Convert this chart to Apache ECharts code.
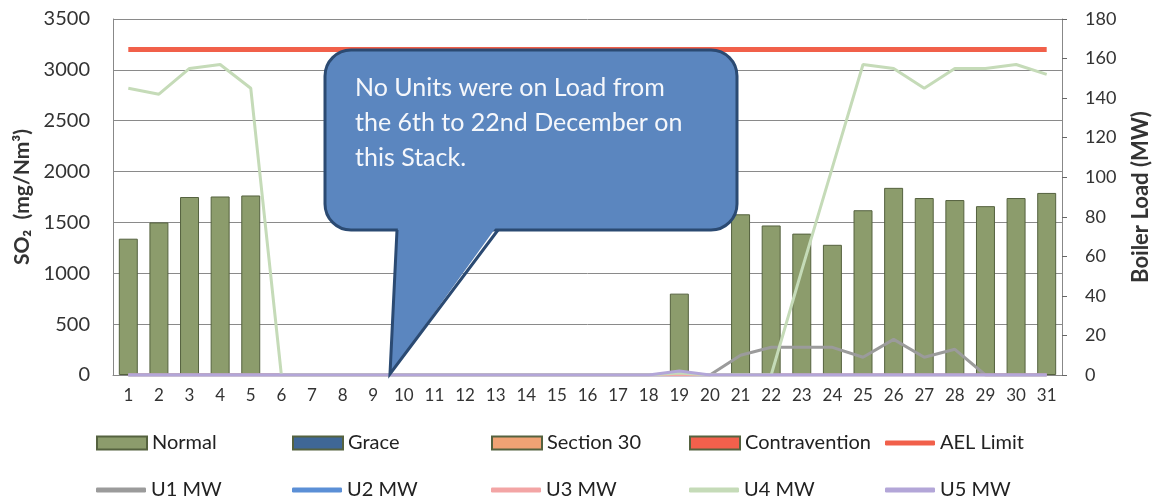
<!DOCTYPE html>
<html>
<head>
<meta charset="utf-8">
<script src="https://cdn.jsdelivr.net/npm/echarts@6/dist/echarts.min.js"></script>
<style>
    html, body { margin: 0; padding: 0; background: #fff; }
    #chart_main { width: 1160px; height: 503px; }
</style>
</head>
<body>
<div id="chart_main"></div>
<script>
// days of December
let days = ['1', '2', '3', '4', '5', '6', '7', '8', '9', '10', '11', '12', '13', '14', '15', '16',
    '17', '18', '19', '20', '21', '22', '23', '24', '25', '26', '27', '28', '29', '30', '31'];

// SO2 daily average (mg/Nm3), '-' = no load
let normal = [1340, 1500, 1750, 1755, 1765, '-', '-', '-', '-', '-', '-', '-', '-', '-', '-', '-',
    '-', '-', 800, '-', 1580, 1470, 1390, 1280, 1620, 1840, 1740, 1720, 1660, 1740, 1790];
let grace = [];
let section30 = [];
let contravention = [];
let aelLimit = [3200, 3200, 3200, 3200, 3200, 3200, 3200, 3200, 3200, 3200, 3200, 3200, 3200, 3200, 3200, 3200,
    3200, 3200, 3200, 3200, 3200, 3200, 3200, 3200, 3200, 3200, 3200, 3200, 3200, 3200, 3200];

// boiler load (MW)
let u1 = [0, 0, 0, 0, 0, 0, 0, 0, 0, 0, 0, 0, 0, 0, 0, 0,
    0, 0, 0, 0, 10, 14, 14, 14, 9, 18, 9, 13, 0, 0, 0];
let u2 = [0, 0, 0, 0, 0, 0, 0, 0, 0, 0, 0, 0, 0, 0, 0, 0,
    0, 0, 0, 0, 0, 0, 0, 0, 0, 0, 0, 0, 0, 0, 0];
let u3 = [0, 0, 0, 0, 0, 0, 0, 0, 0, 0, 0, 0, 0, 0, 0, 0,
    0, 0, 0, 0, 0, 0, 0, 0, 0, 0, 0, 0, 0, 0, 0];
let u4 = [145, 142, 155, 157, 145, 0, 0, 0, 0, 0, 0, 0, 0, 0, 0, 0,
    0, 0, 1, 0, 0, 0, 53, 105, 157, 155, 145, 155, 155, 157, 152];
let u5 = [0, 0, 0, 0, 0, 0, 0, 0, 0, 0, 0, 0, 0, 0, 0, 0,
    0, 0, 2, 0, 0, 0, 0, 0, 0, 0, 0, 0, 0, 0, 0];

let so2Ticks = {min: 0, max: 3500, interval: 500};
let loadTicks = {min: 0, max: 180, interval: 20};

let calloutText = 'No Units were on Load from\nthe 6th to 22nd December on\nthis Stack.';

let font = 'Lato';
let myChart = echarts.init(document.getElementById('chart_main'));

function barSeries(name, data, color) {
    return {
        name: name,
        type: 'bar',
        stack: 'so2',
        barCategoryGap: '38%',
        itemStyle: {color: color, borderColor: '#55623f', borderWidth: 1},
        data: data
    };
}

function lineSeries(name, data, color, yIndex, width) {
    return {
        name: name,
        type: 'line',
        yAxisIndex: yIndex,
        symbol: 'none',
        lineStyle: {color: color, width: width},
        itemStyle: {color: color},
        data: data
    };
}

/**
 * one legend per item so the columns line up like the original
 */
let legendCols = [96, 292, 491, 689, 885];
function legendItem(name, col, top, isLine) {
    return {
        left: legendCols[col],
        top: top,
        padding: 0,
        itemWidth: 50,
        itemHeight: isLine ? 5 : 13,
        icon: isLine ? 'roundRect' : 'rect',
        itemGap: 5,
        selectedMode: false,
        textStyle: {fontFamily: font, fontSize: 20, color: '#222'},
        data: [name]
    };
}

let option = {
    animation: false,
    textStyle: {fontFamily: font},
    grid: {left: 113, right: 96, top: 19, bottom: 128, containLabel: false},
    legend: [
        legendItem('Normal', 0, 433, false),
        legendItem('Grace', 1, 433, false),
        legendItem('Section 30', 2, 433, false),
        legendItem('Contravention', 3, 433, false),
        legendItem('AEL Limit', 4, 433, true),
        legendItem('U1 MW', 0, 480, true),
        legendItem('U2 MW', 1, 480, true),
        legendItem('U3 MW', 2, 480, true),
        legendItem('U4 MW', 3, 480, true),
        legendItem('U5 MW', 4, 480, true)
    ],
    xAxis: {
        type: 'category',
        data: days,
        axisLine: {lineStyle: {color: '#888', width: 1}},
        axisTick: {alignWithLabel: true, length: 4, lineStyle: {color: '#555'}},
        axisLabel: {fontSize: 17, color: '#333', margin: 12, interval: 0}
    },
    yAxis: [{
        type: 'value',
        min: so2Ticks.min, max: so2Ticks.max, interval: so2Ticks.interval,
        name: 'SO\u2082  (mg/Nm\u00b3)',
        nameLocation: 'middle',
        nameRotate: 90,
        nameGap: 80,
        nameTextStyle: {fontSize: 21, fontWeight: 'bold', color: '#333'},
        axisLine: {show: true, lineStyle: {color: '#888'}},
        axisTick: {show: false},
        axisLabel: {fontSize: 20, color: '#333', margin: 23, formatter: function (v) { return String(v); }},
        splitLine: {lineStyle: {color: '#8a8a8a', width: 1}}
    }, {
        type: 'value',
        position: 'right',
        min: loadTicks.min, max: loadTicks.max, interval: loadTicks.interval,
        name: 'Boiler Load (MW)',
        nameLocation: 'middle',
        nameRotate: 90,
        nameGap: 68,
        nameTextStyle: {fontSize: 22, fontWeight: 'bold', color: '#333'},
        axisLine: {show: true, lineStyle: {color: '#888'}},
        axisTick: {show: true, length: 5, lineStyle: {color: '#666'}},
        axisLabel: {fontSize: 18, color: '#333', margin: 23},
        splitLine: {show: false}
    }],
    series: [
        barSeries('Normal', normal, '#8c9c6c'),
        barSeries('Grace', grace, '#3f6796'),
        barSeries('Section 30', section30, '#f0a274'),
        barSeries('Contravention', contravention, '#f2604c'),
        lineSeries('AEL Limit', aelLimit, '#f1604a', 0, 5),
        lineSeries('U1 MW', u1, '#9b9b9b', 1, 3),
        lineSeries('U2 MW', u2, '#5b8fd6', 1, 3),
        lineSeries('U3 MW', u3, '#f3a5a5', 1, 3),
        lineSeries('U4 MW', u4, '#c5dbb8', 1, 3),
        lineSeries('U5 MW', u5, '#b3a6d8', 1, 3)
    ],
    graphic: [{
        // speech bubble body
        type: 'rect',
        z: 100,
        shape: {x: 325, y: 50, width: 412, height: 180, r: 26},
        style: {fill: '#5b86bf', stroke: '#2b4a72', lineWidth: 3}
    }, {
        type: 'polygon',
        z: 101,
        shape: {points: [[398, 226], [497, 226], [390, 374]]},
        style: {fill: '#5b86bf'}
    }, {
        type: 'polyline',
        z: 102,
        shape: {points: [[397, 230], [390, 374], [498, 230]]},
        style: {stroke: '#2b4a72', lineWidth: 3, fill: null}
    }, {
        type: 'text',
        z: 103,
        x: 355,
        y: 70,
        style: {
            text: calloutText,
            fill: '#f5f7fb',
            fontFamily: font,
            fontSize: 25,
            lineHeight: 35
        }
    }]
};

myChart.setOption(option);
</script>
</body>
</html>
